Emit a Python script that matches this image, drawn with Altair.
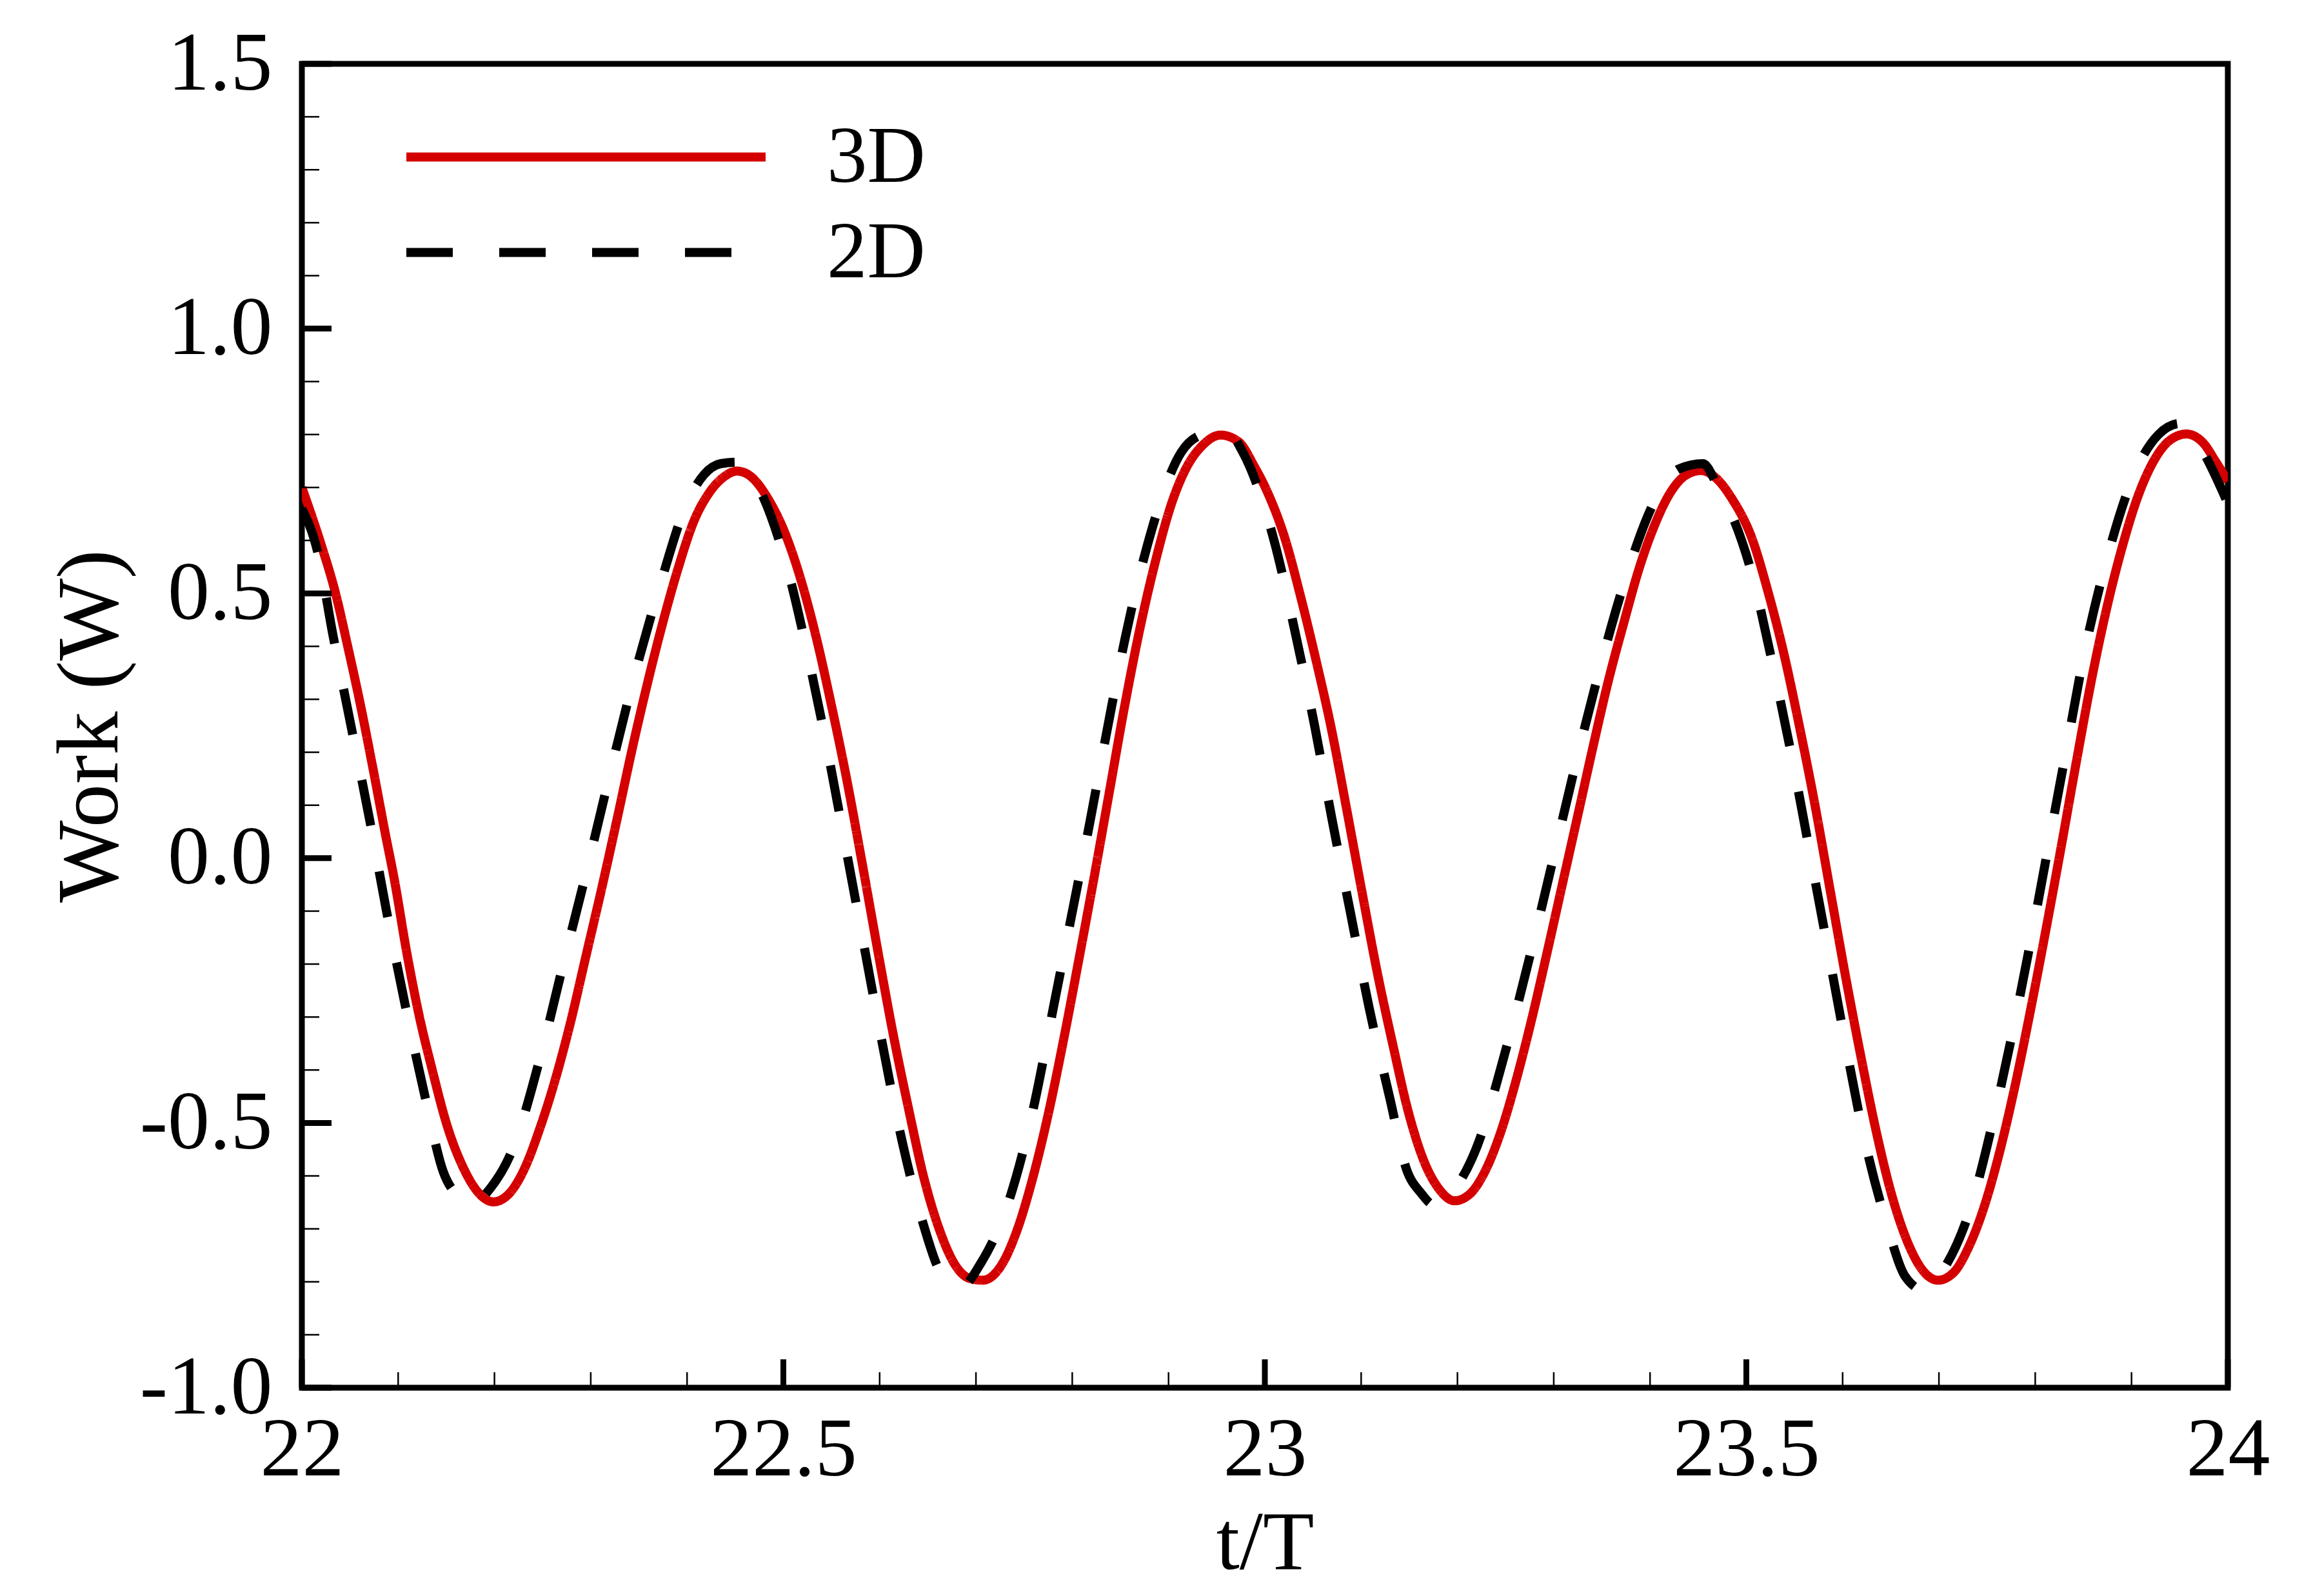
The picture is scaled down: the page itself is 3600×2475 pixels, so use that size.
import altair as alt
import pandas as pd

# ---------------- data ----------------
t_3d = [22.000, 22.019, 22.035, 22.048, 22.061, 22.074, 22.087, 22.096, 22.109, 22.122,
        22.135, 22.151, 22.167, 22.183, 22.199, 22.215, 22.231, 22.247, 22.263, 22.279,
        22.295, 22.311, 22.327, 22.343, 22.359, 22.375, 22.391, 22.407, 22.423, 22.439,
        22.452, 22.468, 22.484, 22.501, 22.518, 22.534, 22.550, 22.566, 22.582, 22.598,
        22.614, 22.630, 22.646, 22.662, 22.678, 22.694, 22.707, 22.727, 22.743, 22.759,
        22.775, 22.791, 22.807, 22.823, 22.839, 22.855, 22.871, 22.887, 22.903, 22.919,
        22.935, 22.954, 22.973, 22.989, 23.003, 23.021, 23.037, 23.053, 23.069, 23.085,
        23.101, 23.117, 23.133, 23.149, 23.165, 23.181, 23.197, 23.213, 23.229, 23.245,
        23.261, 23.277, 23.293, 23.309, 23.325, 23.341, 23.357, 23.373, 23.389, 23.405,
        23.421, 23.437, 23.453, 23.469, 23.485, 23.506, 23.523, 23.539, 23.555, 23.571,
        23.587, 23.603, 23.619, 23.635, 23.651, 23.667, 23.683, 23.699, 23.715, 23.731,
        23.747, 23.763, 23.779, 23.795, 23.811, 23.827, 23.843, 23.859, 23.875, 23.891,
        23.907, 23.923, 23.939, 23.957, 23.975, 23.987, 24.000]
w_3d = [0.700, 0.598, 0.500, 0.397, 0.288, 0.168, 0.043, -0.040, -0.179, -0.299,
        -0.397, -0.506, -0.582, -0.631, -0.649, -0.634, -0.587, -0.511, -0.419, -0.310,
        -0.185, -0.060, 0.071, 0.206, 0.331, 0.446, 0.549, 0.636, 0.690, 0.721,
        0.731, 0.718, 0.679, 0.617, 0.527, 0.418, 0.288, 0.147, -0.011, -0.174,
        -0.332, -0.473, -0.604, -0.701, -0.767, -0.794, -0.797, -0.767, -0.701, -0.604,
        -0.484, -0.343, -0.190, -0.033, 0.130, 0.293, 0.440, 0.565, 0.669, 0.739,
        0.779, 0.799, 0.786, 0.740, 0.690, 0.603, 0.495, 0.375, 0.245, 0.092,
        -0.065, -0.218, -0.353, -0.479, -0.571, -0.625, -0.647, -0.634, -0.590, -0.517,
        -0.419, -0.305, -0.179, -0.049, 0.081, 0.212, 0.337, 0.446, 0.549, 0.630,
        0.690, 0.723, 0.732, 0.717, 0.679, 0.603, 0.500, 0.386, 0.250, 0.103,
        -0.060, -0.223, -0.375, -0.517, -0.636, -0.723, -0.778, -0.797, -0.783, -0.734,
        -0.658, -0.555, -0.430, -0.288, -0.136, 0.022, 0.185, 0.342, 0.478, 0.592,
        0.685, 0.750, 0.788, 0.801, 0.783, 0.750, 0.712]

t_2d = [22.000, 22.016, 22.032, 22.051, 22.070, 22.088, 22.107, 22.128, 22.147, 22.162,
        22.176, 22.195, 22.219, 22.248, 22.272, 22.296, 22.319, 22.343, 22.370, 22.402,
        22.418, 22.435, 22.453, 22.474, 22.504, 22.527, 22.547, 22.565, 22.583, 22.601,
        22.620, 22.644, 22.664, 22.683, 22.705, 22.736, 22.761, 22.780, 22.799, 22.818,
        22.836, 22.855, 22.878, 22.913, 22.935, 22.960, 22.977, 23.010, 23.032, 23.052,
        23.070, 23.089, 23.108, 23.130, 23.147, 23.162, 23.176, 23.197, 23.220, 23.249,
        23.274, 23.297, 23.320, 23.344, 23.371, 23.407, 23.430, 23.455, 23.469, 23.506,
        23.528, 23.548, 23.566, 23.584, 23.602, 23.621, 23.646, 23.665, 23.685, 23.707,
        23.732, 23.757, 23.778, 23.797, 23.815, 23.833, 23.851, 23.874, 23.906, 23.928,
        23.951, 23.965, 24.000]
w_2d = [0.660, 0.581, 0.424, 0.250, 0.076, -0.101, -0.275, -0.451, -0.593, -0.638,
        -0.655, -0.625, -0.549, -0.373, -0.196, -0.022, 0.152, 0.328, 0.503, 0.679,
        0.725, 0.745, 0.748, 0.701, 0.548, 0.370, 0.193, 0.018, -0.158, -0.333,
        -0.507, -0.683, -0.785, -0.812, -0.765, -0.637, -0.461, -0.286, -0.111, 0.065,
        0.240, 0.416, 0.591, 0.766, 0.800, 0.808, 0.767, 0.597, 0.422, 0.247,
        0.071, -0.104, -0.280, -0.455, -0.587, -0.632, -0.655, -0.625, -0.546, -0.370,
        -0.194, -0.020, 0.157, 0.331, 0.507, 0.682, 0.735, 0.745, 0.707, 0.535,
        0.360, 0.184, 0.010, -0.165, -0.341, -0.517, -0.692, -0.790, -0.816, -0.770,
        -0.665, -0.490, -0.315, -0.140, 0.036, 0.212, 0.387, 0.562, 0.738, 0.800,
        0.821, 0.794, 0.670]

series_names = ["3D", "2D"]
series_colors = ["#d40000", "#000000"]
series_dashes = [[1, 0], [72, 72]]

x_major = [22.0, 22.5, 23.0, 23.5, 24.0]
x_minor = [22.1, 22.2, 22.3, 22.4, 22.6, 22.7, 22.8, 22.9,
           23.1, 23.2, 23.3, 23.4, 23.6, 23.7, 23.8, 23.9]
y_major = [-1.0, -0.5, 0.0, 0.5, 1.0, 1.5]
y_minor = [-0.9, -0.8, -0.7, -0.6, -0.4, -0.3, -0.2, -0.1, 0.1, 0.2, 0.3, 0.4,
           0.6, 0.7, 0.8, 0.9, 1.1, 1.2, 1.3, 1.4]

# ---------------- chart ----------------
W, H = 2986, 2053
FONT = "Liberation Serif"

df3 = pd.DataFrame({"t": t_3d, "w": w_3d, "series": series_names[0]})
df2 = pd.DataFrame({"t": t_2d, "w": w_2d, "series": series_names[1]})

xs = alt.Scale(domain=[22, 24], nice=False, zero=False)
ys = alt.Scale(domain=[-1.0, 1.5], nice=False, zero=False)

# legend: a long horizontal stroke drawn as a custom symbol path
legend = alt.Legend(
    title=None, orient="none", legendX=162, legendY=82, padding=0,
    symbolType="M-5.57,0L5.57,0", symbolSize=10000, symbolStrokeWidth=14,
    symbolOffset=216,
    labelFont=FONT, labelFontSize=125, labelColor="black", labelOffset=311,
    labelLimit=0, rowPadding=22,
)

x_axis = alt.Axis(
    values=x_major, format="~g", labelFlush=False, labelOverlap=False, labelLimit=0,
    ticks=False, tickSize=0, domain=False, grid=False,
    labelFont=FONT, labelFontSize=130, labelColor="black", labelPadding=32,
    title="t/T", titleFont=FONT, titleFontSize=130, titleFontWeight="normal",
    titleColor="black", titleBaseline="alphabetic", titleY=280, titleLimit=0,
)
y_axis = alt.Axis(
    values=y_major, labelOverlap=False, labelLimit=0,
    labelExpr="datum.value < 0 ? '-' + format(-datum.value, '.1f') : format(datum.value, '.1f')",
    ticks=False, tickSize=0, domain=False, grid=False,
    labelFont=FONT, labelFontSize=130, labelColor="black", labelPadding=46,
    title="Work (W)", titleFont=FONT, titleFontSize=135, titleFontWeight="normal",
    titleColor="black", titleAngle=270, titleBaseline="alphabetic",
    titleAlign="center", titleX=-287, titleY=H / 2, titleLimit=0,
)

X = alt.X("t:Q", scale=xs, axis=x_axis)
Y = alt.Y("w:Q", scale=ys, axis=y_axis)

color = alt.Color("series:N", scale=alt.Scale(domain=series_names, range=series_colors), legend=legend)
dash = alt.StrokeDash("series:N", scale=alt.Scale(domain=series_names, range=series_dashes), legend=legend)

line3 = alt.Chart(df3).mark_line(strokeWidth=14, interpolate="monotone", clip=True).encode(
    x=X, y=Y, color=color, strokeDash=dash)
line2 = alt.Chart(df2).mark_line(strokeWidth=14, interpolate="monotone", clip=True).encode(
    x=X, y=Y, color=color, strokeDash=dash)

ymaj = alt.Chart(pd.DataFrame({"w": y_major})).mark_rule(color="black", strokeWidth=9).encode(
    y=Y, x=alt.value(0), x2=alt.value(46))
ymin = alt.Chart(pd.DataFrame({"w": y_minor})).mark_rule(color="black", strokeWidth=2.5).encode(
    y=Y, x=alt.value(0), x2=alt.value(27))
xmaj = alt.Chart(pd.DataFrame({"t": x_major})).mark_rule(color="black", strokeWidth=9).encode(
    x=X, y=alt.value(H), y2=alt.value(H - 44))
xmin = alt.Chart(pd.DataFrame({"t": x_minor})).mark_rule(color="black", strokeWidth=2.5).encode(
    x=X, y=alt.value(H), y2=alt.value(H - 24))

chart = alt.layer(line3, line2, ymaj, ymin, xmaj, xmin).properties(
    width=W, height=H,
    padding={"left": 460, "top": 91, "right": 120, "bottom": 312},
    autosize=alt.AutoSizeParams(type="none"),
    background="white",
).configure_view(stroke="black", strokeWidth=9)

chart.save("out.html", embed_options={"renderer": "svg", "actions": False})
